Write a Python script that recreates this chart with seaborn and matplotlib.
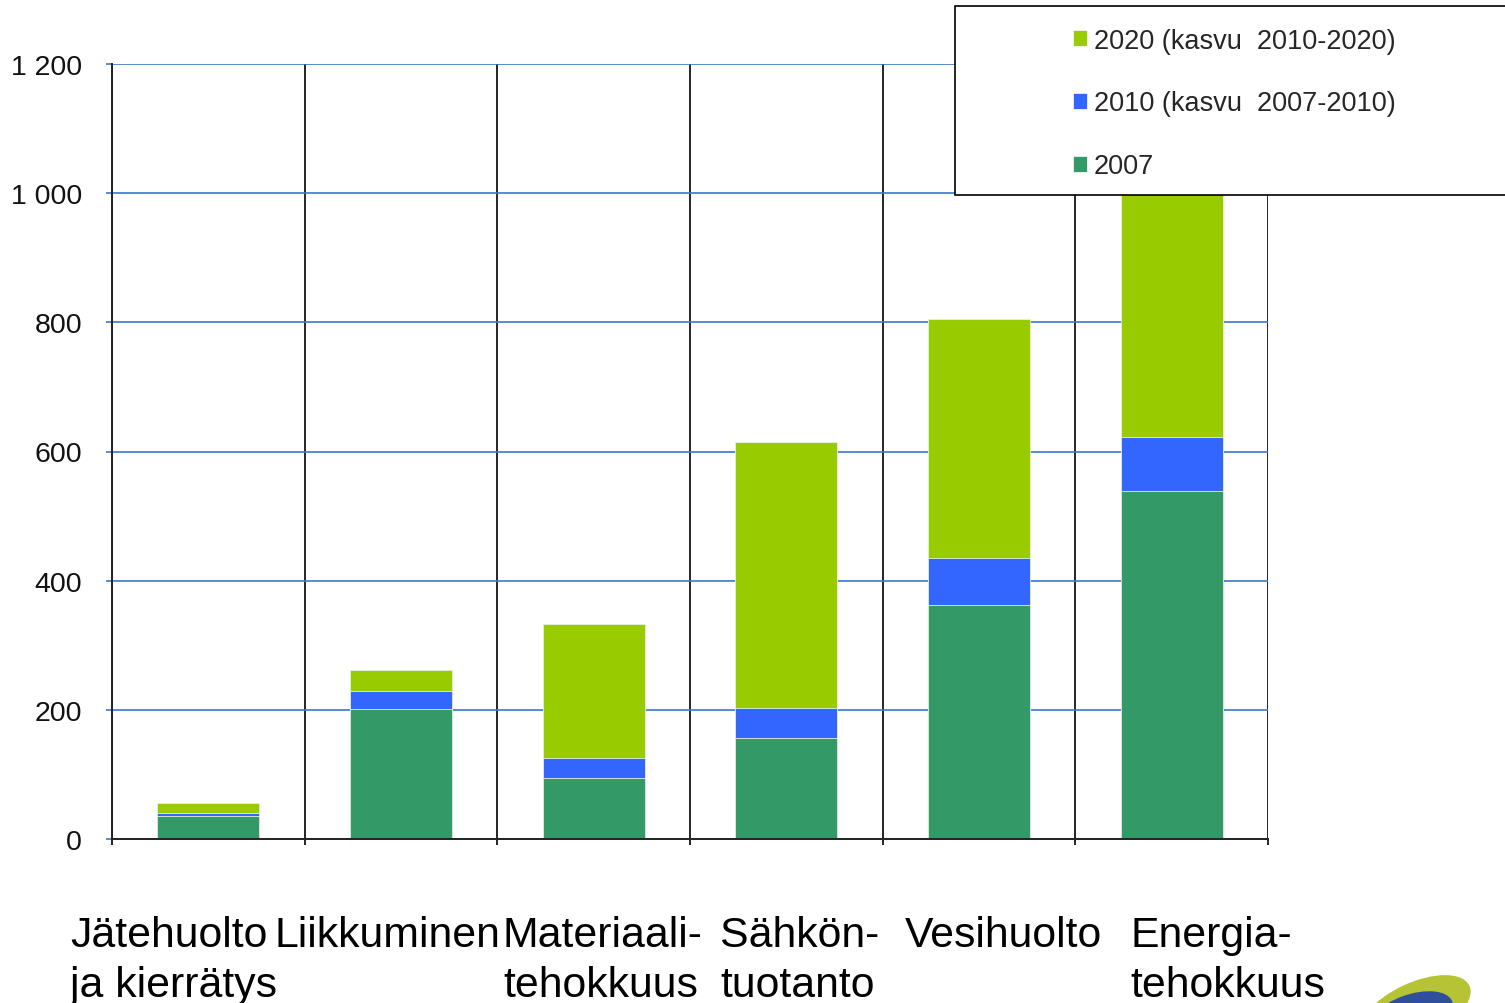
import numpy as np
import seaborn as sns
import matplotlib.pyplot as plt
from matplotlib.patches import Patch, Rectangle, Ellipse
from matplotlib.transforms import IdentityTransform


CATEGORIES = ['Jätehuolto', 'Liikkuminen', 'Materiaali', 'Sähkön', 'Vesihuolto', 'Energia']
CATEGORY_LABELS = ['Jätehuolto\nja kierrätys', 'Liikkuminen', 'Materiaali-\ntehokkuus',
                   'Sähkön-\ntuotanto', 'Vesihuolto', 'Energia-\ntehokkuus']

# cumulative bar heights (2007, 2010, 2020)
VALUES_2007 = [36, 201, 94, 156, 362, 539]
VALUES_2010 = [40, 229, 125, 203, 435, 622]
VALUES_2020 = [56, 262, 333, 615, 805, 1100]

Y_TICKS = [0, 200, 400, 600, 800, 1000, 1200]
Y_TICK_LABELS = ['0', '200', '400', '600', '800', '1 000', '1 200']

SERIES_NAMES = ['2020 (kasvu  2010-2020)', '2010 (kasvu  2007-2010)', '2007']
SERIES_COLORS = ['#99CC00', '#3366FF', '#339966']

GRID_BLUE = '#3A78C8'


def main():
    sns.set_style('white')
    plt.rcParams['font.family'] = ['Liberation Sans', 'DejaVu Sans']

    fig = plt.figure(figsize=(15.05, 10.04), dpi=100)
    ax = fig.add_axes([112 / 1505, 164 / 1004, 1156 / 1505, 775 / 1004])

    for values, color in zip([VALUES_2020, VALUES_2010, VALUES_2007], SERIES_COLORS):
        sns.barplot(x=CATEGORIES, y=values, color=color, saturation=1, width=0.53,
                    edgecolor='#e8f0e0', linewidth=0.6, ax=ax, zorder=2)

    ax.set_xlim(-0.5, len(CATEGORIES) - 0.5)
    ax.set_ylim(0, 1200)
    ax.set_yticks(Y_TICKS)
    ax.set_yticklabels(Y_TICK_LABELS)
    ax.set_xticks([])
    ax.set_xticks(np.arange(-0.5, len(CATEGORIES)), minor=True)

    ax.yaxis.grid(True, color=GRID_BLUE, linewidth=1.2)
    ax.xaxis.grid(True, which='minor', color='black', linewidth=1.2)
    ax.set_axisbelow(True)

    ax.tick_params(axis='y', length=4.5, width=1.2, color=GRID_BLUE, labelsize=20.5,
                   labelcolor='#111111', pad=17, left=True)
    ax.tick_params(axis='x', which='minor', length=4.5, width=1.2, color='black',
                   direction='out', bottom=True)

    for side in ['top', 'right']:
        ax.spines[side].set_visible(False)
    for side in ['left', 'bottom']:
        ax.spines[side].set_color('#222222')
        ax.spines[side].set_linewidth(1.4)
    ax.set_xlabel('')
    ax.set_ylabel('')

    # category labels (placed like the original slide text boxes)
    label_x = [70, 275, 503, 720, 905, 1130]
    for x, label in zip(label_x, CATEGORY_LABELS):
        for i, line in enumerate(label.split('\n')):
            fig.text(x / 1505, 1 - (947 + 50 * i) / 1004, line, ha='left',
                     va='baseline', fontsize=30.8, color='black')

    # legend box overlapping the plot
    fig.add_artist(Rectangle((955 / 1505, 1 - 196 / 1004), 0.4, 189 / 1004,
                             transform=fig.transFigure, facecolor='white',
                             edgecolor='black', linewidth=1.2, zorder=3))
    handles = [Patch(facecolor=c, edgecolor='white', linewidth=0.5) for c in SERIES_COLORS]
    leg = fig.legend(handles, SERIES_NAMES, loc='upper left',
                     bbox_to_anchor=(1059 / 1505, 1 - 15 / 1004), frameon=False,
                     fontsize=19.5, handlelength=0.52, handleheight=0.52,
                     handletextpad=0.26, labelspacing=1.36, borderpad=0)
    leg.set_zorder(5)

    # logo fragment in bottom-right corner
    fig.add_artist(Ellipse((1415, 1004 - 1012), 120, 56, angle=25,
                           transform=IdentityTransform(), facecolor='#B5C334',
                           edgecolor='none', zorder=3))
    fig.add_artist(Ellipse((1410, 1004 - 1018), 90, 44, angle=20,
                           transform=IdentityTransform(), facecolor='#2F4E9B',
                           edgecolor='none', zorder=4))

    fig.savefig('out.png', dpi=100)


if __name__ == '__main__':
    main()
